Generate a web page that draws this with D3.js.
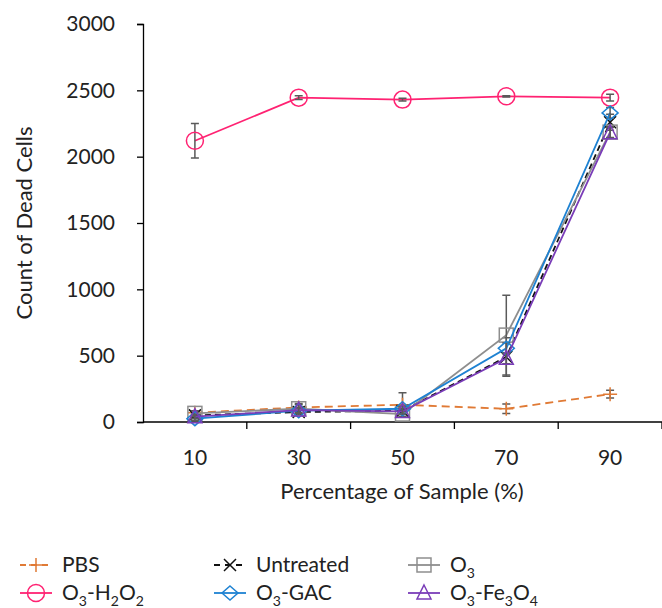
<!DOCTYPE html>
<html>
<head>
<meta charset="utf-8">
<script src="https://d3js.org/d3.v7.min.js"></script>
<style>
  body { margin: 0; background: #fff; }
  text { font-family: Lato, "Open Sans", sans-serif; fill: #222; }
</style>
</head>
<body>
<div id="chart"></div>
<script>
// sample percentages on the x axis
const categories = ["10", "30", "50", "70", "90"];
const yTicks = [0, 500, 1000, 1500, 2000, 2500, 3000];

// counts of dead cells and their error bars
const pbs = [70, 110, 130, 100, 210];
const pbsErr = [15, 20, 90, 35, 30];
const untreated = [50, 75, 85, 490, 2260];
const untreatedErr = [20, 25, 30, 145, 60];
const o3 = [65, 100, 60, 655, 2185];
const o3Err = [20, 40, 20, 300, 40];
const h2o2 = [2120, 2445, 2430, 2455, 2445];
const h2o2Err = [130, 15, 10, 5, 25];
const gac = [25, 85, 100, 555, 2330];
const gacErr = [15, 20, 20, 40, 40];
const fe = [40, 90, 80, 480, 2180];
const feErr = [15, 20, 20, 40, 40];

const series = [
  {name: [["PBS"]], values: pbs, err: pbsErr, color: "#E07A35", dash: "8,5", marker: "plus"},
  {name: [["Untreated"]], values: untreated, err: untreatedErr, color: "#111", dash: "6,4", marker: "cross"},
  {name: [["O"], ["3", "sub"]], values: o3, err: o3Err, color: "#8E8E8E", dash: null, marker: "square"},
  {name: [["O"], ["3", "sub"], ["-H"], ["2", "sub"], ["O"], ["2", "sub"]], values: h2o2, err: h2o2Err, color: "#FF2272", dash: null, marker: "circle"},
  {name: [["O"], ["3", "sub"], ["-GAC"]], values: gac, err: gacErr, color: "#1E82D2", dash: null, marker: "diamond"},
  {name: [["O"], ["3", "sub"], ["-Fe"], ["3", "sub"], ["O"], ["4", "sub"]], values: fe, err: feErr, color: "#7A3DB8", dash: null, marker: "triangle"}
];

const width = 662, height = 608;
const margin = {left: 143, right: 0, top: 24, bottom: 186};

const svg = d3.select("#chart").append("svg")
  .attr("width", width)
  .attr("height", height);

const x = d3.scaleBand()
  .domain(categories)
  .range([margin.left, width - margin.right]);

const y = d3.scaleLinear()
  .domain([0, 3000])
  .range([height - margin.bottom, margin.top]);

// axes
const xAxis = svg.append("g")
  .attr("transform", `translate(0,${y(0)})`);
xAxis.append("line")
  .attr("x1", x.range()[0]).attr("x2", x.range()[1])
  .attr("stroke", "#000").attr("stroke-width", 1.3);
xAxis.selectAll(".tick")
  .data(categories)
  .enter().append("line")
  .attr("x1", d => x(d) + x.bandwidth())
  .attr("x2", d => x(d) + x.bandwidth())
  .attr("y1", 0).attr("y2", 7)
  .attr("stroke", "#000").attr("stroke-width", 1.3);
xAxis.selectAll(".lbl")
  .data(categories)
  .enter().append("text")
  .attr("x", d => x(d) + x.bandwidth() / 2)
  .attr("y", 43)
  .attr("text-anchor", "middle")
  .style("font-size", "21px")
  .text(d => d);

const yAxis = svg.append("g")
  .attr("transform", `translate(${margin.left},0)`)
  .call(d3.axisLeft(y).tickValues(yTicks).tickFormat(d3.format("d")).tickSize(6).tickPadding(22));
yAxis.select(".domain").attr("stroke-width", 1.3);
yAxis.selectAll(".tick line").attr("stroke-width", 1.3);
yAxis.selectAll(".tick text")
  .style("font-family", "Lato, 'Open Sans', sans-serif")
  .style("font-size", "21px")
  .attr("fill", "#222");

svg.append("text")
  .attr("transform", `translate(32,${(y(0) + y(3000)) / 2}) rotate(-90)`)
  .attr("text-anchor", "middle")
  .style("font-size", "22px")
  .text("Count of Dead Cells");

svg.append("text")
  .attr("x", 402)
  .attr("y", 499)
  .attr("text-anchor", "middle")
  .style("font-size", "22px")
  .text("Percentage of Sample (%)");

// markers
function drawMarker(g, type, color, cx, cy) {
  const s = 7;
  if (type === "plus") {
    g.append("path").attr("d", `M${cx - s},${cy}H${cx + s}M${cx},${cy - s}V${cy + s}`)
      .attr("stroke", color).attr("stroke-width", 1.5).attr("fill", "none");
  } else if (type === "cross") {
    g.append("path").attr("d", `M${cx - 6},${cy - 6}L${cx + 6},${cy + 6}M${cx - 6},${cy + 6}L${cx + 6},${cy - 6}`)
      .attr("stroke", color).attr("stroke-width", 1.5).attr("fill", "none");
  } else if (type === "square") {
    g.append("rect").attr("x", cx - 7).attr("y", cy - 7).attr("width", 14).attr("height", 14)
      .attr("stroke", color).attr("stroke-width", 1.5).attr("fill", "none");
  } else if (type === "circle") {
    g.append("circle").attr("cx", cx).attr("cy", cy).attr("r", 8.5)
      .attr("stroke", color).attr("stroke-width", 1.5).attr("fill", "none");
  } else if (type === "diamond") {
    g.append("path").attr("d", `M${cx},${cy - 7}L${cx + 8},${cy}L${cx},${cy + 7}L${cx - 8},${cy}Z`)
      .attr("stroke", color).attr("stroke-width", 1.5).attr("fill", "none");
  } else if (type === "triangle") {
    g.append("path").attr("d", `M${cx},${cy - 8}L${cx + 7},${cy + 6}L${cx - 7},${cy + 6}Z`)
      .attr("stroke", color).attr("stroke-width", 1.5).attr("fill", "none");
  }
}

const line = d3.line()
  .x((d, i) => x(categories[i]) + x.bandwidth() / 2)
  .y(d => y(d));

const plot = svg.append("g");
series.forEach(s => {
  const g = plot.append("g");
  g.append("path")
    .attr("d", line(s.values))
    .attr("fill", "none")
    .attr("stroke", s.color)
    .attr("stroke-width", 1.8)
    .attr("stroke-dasharray", s.dash);
  // error bars
  s.values.forEach((v, i) => {
    const cx = x(categories[i]) + x.bandwidth() / 2;
    const lo = y(Math.max(0, v - s.err[i])), hi = y(v + s.err[i]);
    g.append("path")
      .attr("d", `M${cx},${lo}V${hi}M${cx - 4},${lo}H${cx + 4}M${cx - 4},${hi}H${cx + 4}`)
      .attr("stroke", "#5a5a5a").attr("stroke-width", 1.5).attr("fill", "none");
  });
  s.values.forEach((v, i) => {
    drawMarker(g, s.marker, s.color, x(categories[i]) + x.bandwidth() / 2, y(v));
  });
});

// legend
const legendCols = [20, 214, 408];
const legendRows = [565, 593];
series.forEach((s, i) => {
  const lx = legendCols[i % 3], ly = legendRows[Math.floor(i / 3)];
  const g = svg.append("g");
  g.append("line")
    .attr("x1", lx).attr("x2", lx + 32)
    .attr("y1", ly).attr("y2", ly)
    .attr("stroke", s.color).attr("stroke-width", 1.8)
    .attr("stroke-dasharray", s.dash ? "6,5" : null);
  drawMarker(g, s.marker, s.color, lx + 16, ly);
  const t = g.append("text")
    .attr("x", lx + 42)
    .attr("y", ly + 7)
    .style("font-size", "21px");
  let down = false;
  s.name.forEach(part => {
    const ts = t.append("tspan").text(part[0]);
    if (part[1] === "sub") { ts.attr("dy", 6).style("font-size", "14px"); down = true; }
    else if (down) { ts.attr("dy", -6); down = false; }
  });
});
</script>
</body>
</html>
